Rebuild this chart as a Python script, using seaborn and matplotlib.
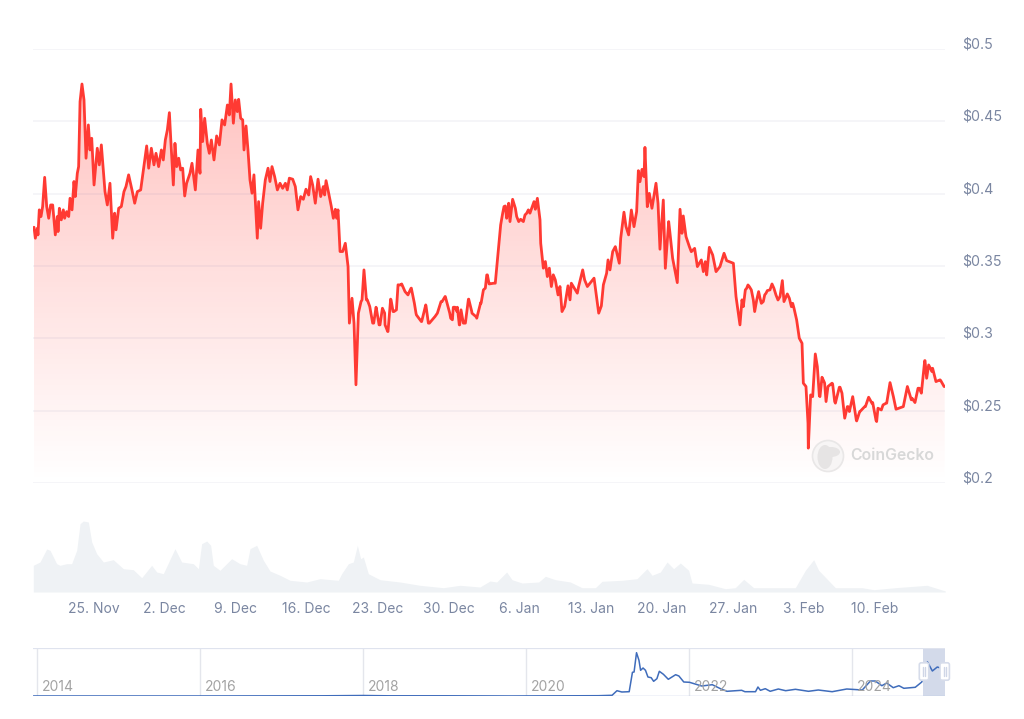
# CoinGecko style price chart: price, volume and navigator panels
import numpy as np
import pandas as pd
import seaborn as sns
import matplotlib.pyplot as plt
from matplotlib.patches import Circle, Ellipse, FancyBboxPatch, Rectangle
from matplotlib.transforms import ScaledTranslation

# Days counted from the left edge of the chart
price_day = [0.10, 0.23, 0.43, 0.49, 0.62, 0.79, 0.95, 1.15, 1.35, 1.55, 1.74, 1.94, 2.20, 2.40, 2.47, 2.60, 2.79, 2.99, 3.12, 3.32,
             3.52, 3.65, 3.85, 4.04, 4.17, 4.37, 4.50, 4.64, 4.83, 5.03, 5.23, 5.46, 5.62, 5.79, 6.02, 6.34, 6.54, 6.74, 7.10, 7.33,
             7.59, 7.86, 8.05, 8.19, 8.45, 8.71, 8.97, 9.17, 9.43, 9.76, 10.03, 10.29, 10.62, 10.95, 11.21, 11.41, 11.67, 11.93, 12.13, 12.39,
             12.66, 12.85, 13.05, 13.25, 13.45, 13.58, 13.84, 14.00, 14.17, 14.37, 14.56, 14.76, 14.96, 15.15, 15.48, 15.68, 16.01, 16.27, 16.47, 16.54,
             16.73, 16.93, 17.19, 17.39, 17.59, 17.85, 18.11, 18.38, 18.64, 18.90, 19.17, 19.36, 19.53, 19.76, 19.95, 20.15, 20.28, 20.48, 20.68, 20.81,
             21.01, 21.20, 21.40, 21.60, 21.79, 22.12, 22.25, 22.45, 22.65, 22.91, 23.18, 23.37, 23.57, 23.83, 24.10, 24.36, 24.62, 24.89, 25.08, 25.28,
             25.61, 25.87, 26.13, 26.40, 26.66, 26.92, 27.19, 27.38, 27.58, 27.84, 28.11, 28.37, 28.63, 28.76, 28.90, 29.16, 29.42, 29.62, 29.82, 29.95,
             30.08, 30.28, 30.54, 30.80, 31.00, 31.07, 31.20, 31.46, 31.66, 31.85, 32.05, 32.45, 32.64, 32.97, 33.50, 33.83, 34.22, 34.68, 35.01, 35.27,
             35.60, 36.00, 36.32, 36.98, 37.31, 37.77, 38.30, 38.76, 39.09, 39.88, 40.34, 40.66, 41.19, 41.45, 41.85, 42.04, 42.64, 42.97, 43.29, 43.75,
             44.15, 44.41, 44.61, 44.81, 45.00, 45.59, 45.86, 46.12, 46.45, 46.71, 46.91, 47.04, 47.30, 47.57, 47.90, 48.36, 48.69, 49.01, 49.41, 49.54,
             49.74, 50.00, 50.07, 50.33, 50.53, 50.72, 50.92, 51.12, 51.31, 51.51, 51.78, 51.97, 52.17, 52.43, 52.76, 52.96, 53.09, 53.68, 53.81, 54.21,
             54.40, 54.67, 55.33, 55.79, 56.05, 56.25, 56.57, 56.71, 56.90, 57.17, 57.43, 57.82, 57.96, 58.28, 58.48, 58.74, 59.01, 59.27, 59.53, 59.70,
             59.86, 60.06, 60.26, 60.35, 60.58, 60.78, 61.04, 61.44, 61.64, 61.83, 62.16, 62.36, 62.69, 62.82, 63.08, 63.54, 63.81, 64.00, 64.13, 64.40,
             64.73, 64.92, 65.25, 65.52, 65.91, 66.11, 66.30, 66.44, 66.70, 67.03, 67.36, 67.75, 68.15, 68.41, 69.07, 69.33, 69.72, 69.92, 70.05, 70.25,
             70.51, 70.84, 71.17, 71.56, 71.83, 72.16, 72.42, 72.88, 73.47, 73.67, 73.90, 74.06, 74.39, 74.79, 75.05, 75.31, 75.57, 75.84, 75.97, 76.23,
             76.46, 76.69, 76.89, 77.15, 77.35, 77.61, 77.81, 78.01, 78.21, 78.40, 78.80, 79.06, 79.52, 80.05, 80.38, 80.51, 80.84, 81.23, 81.56, 82.09,
             82.41, 82.74, 83.20, 83.33, 83.66, 84.12, 84.52, 84.85, 85.11, 85.83, 86.23, 86.69, 86.98, 87.41, 87.61, 87.97, 88.13, 88.33, 88.66, 89.05,
             89.45, 89.91]
price_usd = [.3768, .3692, .3761, .3715, .3888, .3842, .3911, .4113, .3911, .3830, .3922, .3922, .3715, .3842, .3738, .3899, .3819, .3888, .3830, .3876,
             .3842, .3968, .3888, .4084, .3980, .4141, .4187, .4636, .4758, .4648, .4245, .4475, .4302, .4383, .4060, .4314, .4199, .4337, .4014, .3922,
             .4072, .3692, .3865, .3750, .3899, .3911, .4014, .4049, .4130, .4026, .3934, .4014, .4026, .4199, .4330, .4176, .4314, .4199, .4279, .4187,
             .4302, .4233, .4371, .4440, .4560, .4383, .4060, .4348, .4187, .4245, .4164, .4176, .3984, .4072, .4141, .4210, .4026, .4302, .4141, .4583,
             .4360, .4521, .4348, .4279, .4371, .4233, .4399, .4337, .4510, .4475, .4613, .4544, .4758, .4487, .4648, .4567, .4652, .4521, .4510, .4302,
             .4468, .4302, .4095, .4003, .4130, .3692, .3945, .3761, .3934, .4095, .4176, .4084, .4187, .4118, .4026, .4072, .4037, .4072, .4026, .4107,
             .4100, .4049, .3888, .3980, .3961, .4031, .3991, .4118, .4060, .3934, .4100, .3980, .4049, .3991, .4090, .4003, .3911, .3830, .3892, .3830,
             .3888, .3600, .3600, .3657, .3542, .3496, .3105, .3277, .3105, .2679, .3105, .3266, .3473, .3266, .3105, .3215, .3093, .3174, .3047, .3271,
             .3185, .3370, .3370, .3300, .3347, .3174, .3116, .3224, .3105, .3174, .3254, .3289, .3139, .3215, .3215, .3093, .3105, .3271, .3174, .3146,
             .3247, .3335, .3347, .3439, .3376, .3381, .3588, .3784, .3911, .3830, .3934, .3807, .3961, .3899, .3807, .3807, .3865, .3865, .3945, .3892,
             .3968, .3819, .3657, .3485, .3531, .3427, .3485, .3358, .3439, .3404, .3300, .3358, .3185, .3220, .3363, .3266, .3381, .3312, .3358, .3473,
             .3404, .3358, .3416, .3174, .3224, .3370, .3450, .3542, .3473, .3600, .3634, .3519, .3692, .3872, .3773, .3715, .3887, .3772, .3876, .4159,
             .4083, .4168, .4118, .4320, .3910, .4002, .3899, .4072, .3933, .3616, .3956, .3484, .3807, .3726, .3553, .3385, .3892, .3726, .3846, .3703,
             .3634, .3599, .3622, .3496, .3542, .3461, .3530, .3438, .3629, .3576, .3461, .3496, .3588, .3537, .3519, .3289, .3093, .3266, .3219, .3335,
             .3369, .3335, .3185, .3323, .3242, .3300, .3330, .3376, .3265, .3289, .3399, .3254, .3307, .3219, .3208, .3127, .3001, .2966, .2690, .2667,
             .2241, .2609, .2597, .2892, .2805, .2597, .2731, .2701, .2563, .2667, .2690, .2563, .2662, .2448, .2528, .2494, .2597, .2429, .2494, .2528,
             .2593, .2551, .2425, .2517, .2505, .2551, .2694, .2597, .2510, .2528, .2667, .2586, .2556, .2655, .2621, .2846, .2724, .2816, .2770, .2701,
             .2713, .2667]

# Second reading of the flatter stretches, merged with the first
extra_day = [32.09, 32.35, 32.88, 33.21, 33.60, 33.86, 34.13, 34.46, 34.72, 34.98, 35.31, 35.51, 35.84, 36.03, 36.36, 36.69, 37.02, 37.28, 37.61, 37.81,
             38.33, 38.73, 38.99, 39.65, 40.24, 40.64, 41.10, 41.36, 41.62, 41.82, 42.08, 42.21, 42.44, 42.94, 43.27, 43.76, 44.19, 44.42, 44.75, 44.98,
             45.43, 46.32, 46.58, 46.81, 47.14, 47.44, 47.70, 48.09, 48.52, 48.85, 49.18, 70.38, 70.64, 71.04, 71.37, 71.70, 72.02, 72.29, 72.68, 73.07,
             73.27, 74.59, 74.92, 76.43, 77.55, 78.07, 78.86, 79.13, 79.59, 79.78, 80.31, 81.20, 81.53, 82.02, 82.81, 83.14, 83.83, 84.19, 85.80, 86.62,
             87.28, 87.54, 87.94, 88.72, 89.52, 89.85]
extra_usd = [.3174, .3254, .3266, .3220, .3105, .3208, .3093, .3208, .3093, .3047, .3266, .3185, .3197, .3369, .3376, .3323, .3307, .3346, .3243, .3162,
             .3116, .3231, .3105, .3151, .3254, .3289, .3174, .3128, .3215, .3185, .3093, .3197, .3105, .3270, .3185, .3139, .3243, .3335, .3438, .3376,
             .3381, .3865, .3915, .3876, .3865, .3929, .3842, .3823, .3853, .3888, .3899, .3346, .3358, .3265, .3265, .3277, .3254, .3312, .3335, .3346,
             .3300, .3277, .3242, .2413, .2602, .2690, .2685, .2552, .2662, .2621, .2528, .2432, .2494, .2528, .2556, .2432, .2540, .2552, .2528, .2575,
             .2655, .2632, .2846, .2793, .2708, .2667]

vol_day = [.03, .69, 1.35, 1.68, 2.33, 2.66, 3.32, 3.81, 4.31, 4.64, 4.96, 5.46, 5.79, 6.28, 6.94, 7.92, 8.91, 9.89, 10.72, 11.70,
           12.20, 12.85, 14.00, 14.66, 15.81, 16.31, 16.63, 17.13, 17.52, 17.78, 18.44, 19.59, 20.41, 21.07, 21.40, 22.06, 22.72, 23.37, 24.36, 25.35,
           26.99, 28.30, 30.11, 30.44, 31.10, 31.59, 31.99, 32.31, 32.58, 33.07, 34.22, 36.19, 38.16, 40.47, 42.11, 44.08, 45.07, 45.73, 46.71, 47.24,
           48.23, 49.87, 50.53, 51.51, 52.99, 54.14, 55.46, 56.12, 58.09, 59.57, 60.55, 61.05, 61.87, 62.53, 63.18, 63.84, 64.66, 64.99, 66.63, 68.28,
           69.26, 70.09, 71.07, 75.18, 76.17, 76.99, 77.48, 79.13, 81.76, 82.91, 85.04, 88.17, 89.97]
vol_musd = [26.7, 30, 43, 41.7, 28.3, 26.7, 28.3, 28.3, 41.7, 68.3, 71, 70, 50, 38.3, 30, 32.3, 23.3, 22.3, 14.3, 26.7,
            20, 18.3, 43.3, 30, 28.3, 23.3, 48.3, 51, 46.7, 26.7, 21.7, 33.3, 28.3, 26.7, 43.3, 46.7, 31.7, 21, 16.7, 11.7,
            10, 13.3, 11.7, 18.3, 28.3, 30, 46.7, 33.3, 35, 18.3, 12.3, 10, 6.7, 4.3, 6.7, 5, 11, 10, 20, 12.3,
            9, 10, 15.7, 12.3, 10, 4.3, 4.3, 10.7, 11.7, 13.3, 23.3, 16.7, 20, 30, 23.3, 29, 21.7, 9, 7.7, 3.3,
            4.3, 12.7, 4.3, 4.3, 21.7, 32.3, 21.7, 4.3, 4.3, 2.3, 4.3, 6.7, 1]

nav_year = [2013.95, 2016.0, 2017.5, 2018.0, 2018.3, 2019.0, 2019.82, 2020.88, 2021.05, 2021.11, 2021.17, 2021.26, 2021.30, 2021.32, 2021.35, 2021.38, 2021.40, 2021.43, 2021.46, 2021.49,
            2021.53, 2021.56, 2021.60, 2021.63, 2021.68, 2021.74, 2021.83, 2021.87, 2021.93, 2022.00, 2022.15, 2022.28, 2022.38, 2022.46, 2022.64, 2022.68, 2022.81, 2022.84, 2022.87, 2022.93,
            2022.99, 2023.09, 2023.18, 2023.30, 2023.46, 2023.58, 2023.75, 2023.93, 2024.12, 2024.22, 2024.28, 2024.36, 2024.42, 2024.50, 2024.57, 2024.63, 2024.77, 2024.85, 2024.92, 2024.98,
            2025.04, 2025.08, 2025.13]
nav_price = [.0, .0, .002, .005, .002, .002, .0, .003, .007, .053, .04, .043, .237, .24, .433, .357, .257, .28, .257, .19,
             .183, .147, .173, .247, .217, .167, .213, .2, .14, .137, .1, .113, .073, .047, .057, .043, .043, .09, .057, .073,
             .047, .07, .053, .067, .047, .06, .043, .07, .06, .15, .15, .103, .13, .083, .103, .077, .087, .14, .34, .25,
             .29, .28, .273]

price_ticks = [0.2, 0.25, 0.3, 0.35, 0.4, 0.45, 0.5]
price_labels = ['$0.2', '$0.25', '$0.3', '$0.35', '$0.4', '$0.45', '$0.5']
date_ticks = [6, 13, 20, 27, 34, 41, 48, 55, 62, 69, 76, 83]
date_labels = ['25. Nov', '2. Dec', '9. Dec', '16. Dec', '23. Dec', '30. Dec', '6. Jan', '13. Jan', '20. Jan', '27. Jan', '3. Feb', '10. Feb']
nav_ticks = [2014, 2016, 2018, 2020, 2022, 2024]

sns.set_theme(style="white")
plt.rcParams['font.family'] = ['Inter', 'DejaVu Sans']

W, H = 1024, 719
LEFT, RIGHT = 33, 945
TXT = '#7a86a1'
RED = '#ff3a33'


def panel(top, bottom):
    # axes placed by pixel rows of the picture
    ax = fig.add_axes([LEFT / W, 1 - bottom / H, (RIGHT - LEFT) / W, (bottom - top) / H])
    sns.despine(ax=ax, left=True, bottom=True)
    ax.patch.set_alpha(0)
    return ax


fig = plt.figure(figsize=(W / 100, H / 100), dpi=100)
df_price = pd.DataFrame({'day': price_day + extra_day, 'price': price_usd + extra_usd}).sort_values('day')
df_vol = pd.DataFrame({'day': vol_day, 'vol': vol_musd})
df_nav = pd.DataFrame({'year': nav_year, 'price': nav_price})

# Price panel
ax = panel(49, 483)
days_end = (RIGHT - LEFT) / 10.14
poly = ax.fill_between(df_price['day'], df_price['price'], 0.2, color='none', lw=0)
grad = np.zeros((256, 2, 4))
grad[:, :, :3] = (1.0, 0.23, 0.2)
grad[:, :, 3] = np.linspace(0.33, 0.0, 256)[:, None]
img = ax.imshow(grad, extent=[0, days_end, 0.2, 0.5], origin='upper', aspect='auto', zorder=1)
img.set_clip_path(poly.get_paths()[0], transform=ax.transData)
sns.lineplot(data=df_price, x='day', y='price', ax=ax, color=RED, lw=2.0, estimator=None, sort=False, zorder=3)
ax.set_xlim(0, days_end)
ax.set_ylim(0.2, 0.5)
ax.set_xticks([])
ax.set_xlabel('')
ax.set_ylabel('')
ax.yaxis.tick_right()
ax.set_yticks(price_ticks, price_labels)
ax.tick_params(axis='y', length=0, pad=12.5, labelsize=10.2, labelcolor=TXT)
ax.grid(axis='y', color='#8c8cb0', alpha=0.11, lw=1.1, zorder=2)
ax.set_axisbelow(False)
lift = ScaledTranslation(0, 6 / 100, fig.dpi_scale_trans)
for lab in ax.get_yticklabels():
    lab.set_transform(lab.get_transform() + lift)

# Watermark and navigator handles sit on an overlay
logo_x = 828
logo_y = 456
wm = fig.add_axes([0, 0, 1, 1])
wm.set_xlim(0, W)
wm.set_ylim(H, 0)
wm.axis('off')
wm.patch.set_alpha(0)
wm.set_zorder(5)
wm.add_patch(Circle((logo_x, logo_y), 15.5, fc='#f7f5f5', ec='#e9e7e7', lw=1.2))
wm.add_patch(Ellipse((logo_x - 3, logo_y + 1), 15, 24, fc='#e6e4e4', ec='none'))
wm.add_patch(Ellipse((logo_x + 3, logo_y - 4), 18, 10, fc='#e6e4e4', ec='none'))
wm.text(850, 455, 'CoinGecko', color='#d8d8d8', fontsize=11.4, fontweight='semibold', va='center', ha='left')

# Volume panel
ax_vol = panel(500, 592)
ax_vol.fill_between(df_vol['day'], df_vol['vol'], 0, color='#eff2f5', lw=0)
ax_vol.set_xlim(0, days_end)
ax_vol.set_ylim(0, 92)
ax_vol.set_yticks([])
ax_vol.set_xticks(date_ticks, date_labels)
ax_vol.tick_params(axis='x', length=7, width=1, color='#f0f1f5', pad=0.5, labelsize=10, labelcolor=TXT)

# Navigator panel
ax_nav = panel(648, 696)
ax_nav.set_xlim(2013.945, 2025.135)
ax_nav.set_ylim(0, 0.48)
ax_nav.add_patch(Rectangle((2024.87, 0), 2025.135 - 2024.87, 0.48, fc='#d3daea', ec='none', zorder=1))
for yr in nav_ticks:
    ax_nav.axvline(yr, color='#e4e6ec', lw=1, zorder=1)
    ax_nav.annotate(str(yr), (yr, 0), xytext=(3.5, 1.5), textcoords='offset points', color='#a3a3a3',
                    fontsize=10, va='bottom', ha='left', zorder=4)
sns.lineplot(data=df_nav, x='year', y='price', ax=ax_nav, color='#3f6cbb', lw=1.1, estimator=None, sort=False, zorder=3)
ax_nav.axhline(0.48, color='#dfe3ee', lw=1.6, zorder=2)
ax_nav.axhline(0, color='#b9c6e2', lw=1, zorder=2)
ax_nav.set_xticks([])
ax_nav.set_yticks([])
ax_nav.set_xlabel('')
ax_nav.set_ylabel('')

# Navigator handles
for hx in [924, 944.7]:
    wm.add_patch(FancyBboxPatch((hx - 3.5, 664), 7, 15, boxstyle='round,pad=1.2,rounding_size=2',
                                fc='white', ec='#d6dcea', lw=1.2, zorder=6))
    wm.plot([hx - 1.2, hx - 1.2], [667, 676], color='#cfd6e6', lw=1, zorder=7)
    wm.plot([hx + 1.2, hx + 1.2], [667, 676], color='#cfd6e6', lw=1, zorder=7)

fig.savefig('out.png', dpi=100, facecolor='white')
